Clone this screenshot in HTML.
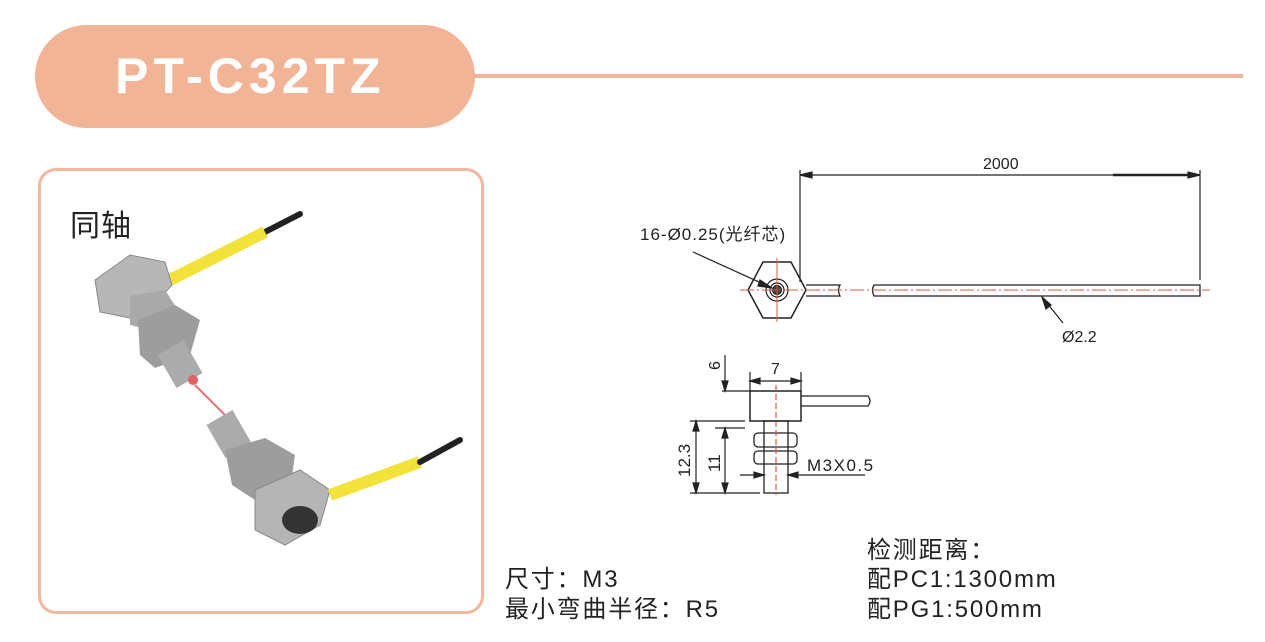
<!DOCTYPE html>
<html><head><meta charset="utf-8"><style>
body{margin:0;width:1265px;height:642px;background:#fff;position:relative;overflow:hidden;font-family:"Liberation Sans","Noto Sans CJK SC",sans-serif}
.pill{position:absolute;left:35px;top:25px;width:440px;height:103px;border-radius:52px;background:#f2b496}
.pill span{position:absolute;left:80px;top:22px;font-size:50px;font-weight:bold;color:#fff;letter-spacing:5px}
.hl{position:absolute;left:470px;top:74px;width:773px;height:4px;background:#f2b496}
.box{position:absolute;left:38px;top:168px;width:440px;height:440px;border:3px solid #f0b89c;border-radius:18px}
.t{position:absolute;color:#222;font-size:24px;letter-spacing:1.8px;white-space:nowrap}
</style></head><body>
<div class="pill"><span>PT-C32TZ</span></div>
<div class="hl"></div>
<div class="box"></div>
<div class="t" style="left:70px;top:201px;font-size:30px;letter-spacing:1px">同轴</div>
<svg width="1265" height="642" style="position:absolute;left:0;top:0">
<g>
<line x1="300" y1="214" x2="265" y2="232" stroke="#222" stroke-width="6" stroke-linecap="round"/>
<line x1="265" y1="232" x2="170" y2="280" stroke="#f2e23a" stroke-width="12"/>
<polygon points="95,280 130,255 165,262 172,285 140,320 100,312" fill="#b7b7b7" stroke="#888"/>
<polygon points="130,296 165,290 178,310 150,330 130,325" fill="#a9a9a9"/>
<polygon points="138,320 175,305 200,320 190,355 155,368 140,355" fill="#9d9d9d"/>
<rect x="165" y="345" width="30" height="38" fill="#ababab" transform="rotate(-30 180 364)"/>
<circle cx="193" cy="380" r="5" fill="#e06060"/>
<line x1="195" y1="385" x2="230" y2="420" stroke="#d77" stroke-width="2"/>
<rect x="214" y="415" width="30" height="38" fill="#ababab" transform="rotate(-30 229 434)"/>
<polygon points="225,450 265,438 295,455 290,490 255,500 232,485" fill="#9d9d9d"/>
<polygon points="255,490 300,470 330,490 320,525 285,545 255,530" fill="#b5b5b5" stroke="#888"/>
<ellipse cx="300" cy="520" rx="18" ry="14" fill="#333"/>
<line x1="330" y1="495" x2="420" y2="462" stroke="#f2e23a" stroke-width="12"/>
<line x1="420" y1="462" x2="460" y2="440" stroke="#222" stroke-width="6" stroke-linecap="round"/>
</g>
<g stroke="#222" stroke-width="1.2" fill="none">
<line x1="800" y1="170" x2="800" y2="282"/>
<line x1="1200" y1="170" x2="1200" y2="280"/>
<line x1="800" y1="175" x2="1200" y2="175"/>
<line x1="1113" y1="175" x2="1190" y2="175" stroke-width="2.5"/>
<polygon points="800,175 812,172 812,178" fill="#222"/>
<polygon points="1200,175 1188,172 1188,178" fill="#222"/>
<polygon points="763,262 791,262 806,290 791,318 763,318 748,290" stroke-width="1.5"/>
<circle cx="777" cy="290" r="11"/><circle cx="777" cy="290" r="7"/>
<circle cx="777" cy="290" r="4.5" fill="#444"/>
<path d="M806,285 H840 Q837,290 840,296 H806 M874,285 Q871,290 874,296 H1200 V285 Z" stroke-width="1.3"/>
<line x1="740" y1="290" x2="1210" y2="290" stroke="#e05a3a" stroke-width="1" stroke-dasharray="14,3,2,3"/>
<line x1="777" y1="258" x2="777" y2="322" stroke="#e05a3a" stroke-width="1"/>
<line x1="693" y1="252" x2="770" y2="287"/>
<polygon points="772,288 760,280 758,286" fill="#222"/>
<line x1="1043" y1="298" x2="1063" y2="323"/>
<polygon points="1042,297 1046,309 1051,305" fill="#222"/>
<rect x="750" y="391" width="51" height="30" stroke-width="1.5"/>
<path d="M801,396 H868 Q872,401 868,406 H801"/>
<rect x="764" y="421" width="24" height="72" stroke-width="1.3"/>
<rect x="754" y="433" width="43" height="14" rx="4" stroke-width="1.3"/>
<rect x="754" y="451" width="43" height="13" rx="4" stroke-width="1.3"/>
<line x1="776" y1="385" x2="776" y2="495" stroke="#e05a3a" stroke-dasharray="6,3"/>
<line x1="750" y1="372" x2="750" y2="391"/><line x1="801" y1="372" x2="801" y2="391"/>
<line x1="750" y1="381" x2="801" y2="381"/>
<polygon points="750,381 760,378 760,384" fill="#222"/><polygon points="801,381 791,378 791,384" fill="#222"/>
<line x1="722" y1="391" x2="750" y2="391"/><line x1="690" y1="421" x2="745" y2="421"/>
<line x1="715" y1="428" x2="745" y2="428"/><line x1="690" y1="493" x2="760" y2="493"/>
<line x1="725" y1="355" x2="725" y2="391"/><polygon points="725,391 722,381 728,381" fill="#222"/>
<line x1="696" y1="421" x2="696" y2="493"/>
<polygon points="696,421 693,431 699,431" fill="#222"/><polygon points="696,493 693,483 699,483" fill="#222"/>
<line x1="725" y1="428" x2="725" y2="493"/>
<polygon points="725,428 722,438 728,438" fill="#222"/><polygon points="725,493 722,483 728,483" fill="#222"/>
<line x1="740" y1="475" x2="764" y2="475"/><polygon points="764,475 754,472 754,478" fill="#222"/>
<line x1="788" y1="475" x2="865" y2="475"/><polygon points="788,475 798,472 798,478" fill="#222"/>
</g>
<g font-family="Liberation Sans, Noto Sans CJK SC, sans-serif" fill="#222" font-size="16">
<text x="983" y="169">2000</text>
<text x="640" y="240" font-size="17" letter-spacing="1">16-Ø0.25(光纤芯)</text>
<text x="1062" y="342">Ø2.2</text>
<text x="771" y="374">7</text>
<text x="807" y="471" font-size="17" letter-spacing="1.5">M3X0.5</text>
<text transform="translate(720,370) rotate(-90)">6</text>
<text transform="translate(690,477) rotate(-90)" font-size="17">12.3</text>
<text transform="translate(720,472) rotate(-90)" font-size="17">11</text>
</g>
</svg>
<div class="t" style="left:505px;top:559px">尺寸：M3</div>
<div class="t" style="left:505px;top:589px">最小弯曲半径：R5</div>
<div class="t" style="left:867px;top:530px">检测距离：</div>
<div class="t" style="left:867px;top:559px">配PC1:1300mm</div>
<div class="t" style="left:867px;top:589px">配PG1:500mm</div>
</body></html>
